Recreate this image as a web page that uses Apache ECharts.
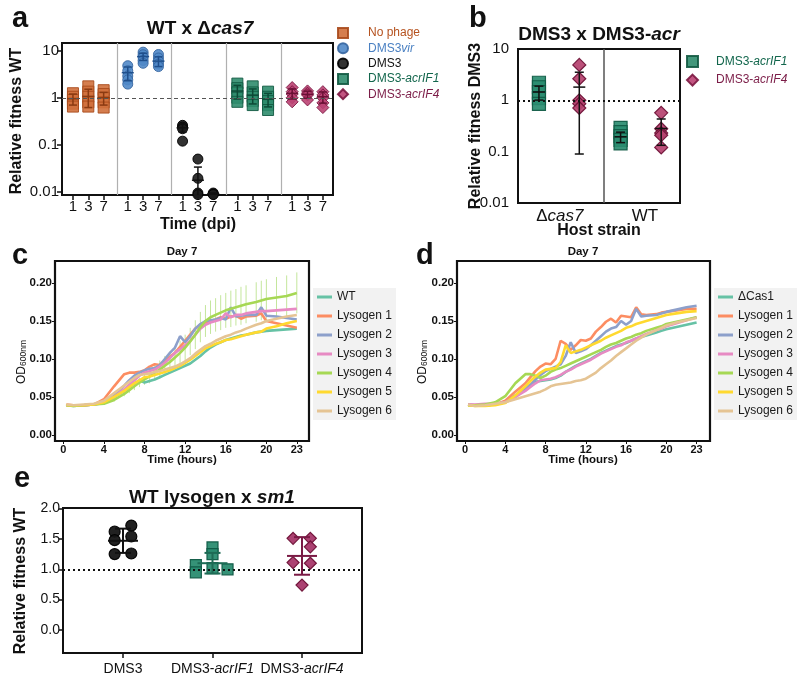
<!DOCTYPE html>
<html>
<head>
<meta charset="utf-8">
<script src="https://cdn.jsdelivr.net/npm/echarts@6/dist/echarts.min.js"></script>
<style>
  html, body { margin: 0; padding: 0; background: #fff; }
  #chart { width: 800px; height: 685px; }
</style>
</head>
<body>
<div id="chart"></div>
<script>
const FONT = "'Liberation Sans', Arial, Helvetica, sans-serif";
const lg = v => Math.log10(v);

// ---------- panel a : WT x Δcas7, per day post infection ----------
const days = ['1', '3', '7'];
const dayOffsets = [0.2, 0.48, 0.76];
const aNames = ['No phage', 'DMS3vir', 'DMS3', 'DMS3-acrIF1', 'DMS3-acrIF4'];
const aNoPhage = [[1.25, 1.05, 0.9, 0.75, 0.65], [1.75, 1.35, 1.05, 0.8, 0.65], [1.45, 1.2, 1.0, 0.8, 0.62]];
const aVir = [[4.8, 3.75, 2.9, 2.4, 1.95], [9.3, 8.2, 7.2, 6.2, 5.4], [8.3, 7.0, 6.0, 5.2, 4.6]];
const aDms3 = [[0.26, 0.24, 0.22, 0.12], [0.05, 0.0195, 0.0095, 0.0088], [0.0095, 0.009, 0.0088]];
const aIF1 = [[2.0, 1.6, 1.3, 1.0, 0.82], [1.75, 1.3, 1.05, 0.85, 0.7], [1.35, 1.05, 0.85, 0.7, 0.55]];
const aIF4 = [[1.65, 1.35, 1.2, 1.0, 0.82], [1.4, 1.25, 1.15, 0.9], [1.35, 1.15, 1.0, 0.78, 0.62]];
const aMean = [[0.95, 1.07, 1.0], [3.4, 7.5, 6.0], [0.23, 0.0178, 0.0092], [1.39, 1.14, 0.94], [1.24, 1.18, 1.05]];
const aSD = [[0.25, 0.45, 0.3], [1.1, 1.3, 1.4], [0.045, 0.016, 0.0003], [0.45, 0.4, 0.3], [0.3, 0.2, 0.28]];
const aTicks = ['0.01', '0.1', '1', '10'];

// ---------- panel b : DMS3 x DMS3-acr ----------
const bHosts = ['Δcas7', 'WT'];
const bCas7IF1 = [2.2, 1.8, 1.45, 1.1, 0.85];
const bCas7IF4 = [4.9, 2.63, 1.0, 0.86, 0.71];
const bWTIF1 = [0.29, 0.24, 0.2, 0.17, 0.145];
const bWTIF4 = [0.57, 0.28, 0.23, 0.21, 0.121];
const bMean = [1.45, 1.81, 0.195, 0.283];
const bSD = [0.44, 1.72, 0.045, 0.15];

// ---------- panels c, d : growth curves, day 7 ----------
const hours = [0.3, 1, 2, 3, 4, 5, 6, 6.5, 7, 7.5, 8, 8.5, 9, 9.5, 10, 10.5, 11, 11.5, 12, 12.5, 13, 13.5, 14, 14.5, 15, 15.5, 16, 16.5, 17, 17.5, 18, 19, 19.5, 20, 21, 22, 23];
const hourTicks = [0, 4, 8, 12, 16, 20, 23];
const odTicks = [0, 0.05, 0.1, 0.15, 0.2];
const cNames = ['WT', 'Lysogen 1', 'Lysogen 2', 'Lysogen 3', 'Lysogen 4', 'Lysogen 5', 'Lysogen 6'];
const dNames = ['ΔCas1', 'Lysogen 1', 'Lysogen 2', 'Lysogen 3', 'Lysogen 4', 'Lysogen 5', 'Lysogen 6'];
const cWT = [0.039,0.038,0.039,0.040,0.042,0.050,0.058,0.063,0.068,0.072,0.069,0.071,0.073,0.076,0.079,0.082,0.085,0.088,0.091,0.094,0.099,0.104,0.110,0.115,0.119,0.122,0.125,0.127,0.129,0.131,0.132,0.135,0.136,0.137,0.138,0.139,0.140];
const cL1 = [0.040,0.039,0.039,0.040,0.047,0.064,0.080,0.082,0.082,0.083,0.085,0.090,0.093,0.092,0.098,0.103,0.108,0.116,0.124,0.132,0.140,0.145,0.148,0.150,0.152,0.155,0.153,0.156,0.157,0.153,0.156,0.157,0.160,0.150,0.147,0.144,0.141];
const cL2 = [0.039,0.039,0.039,0.040,0.043,0.052,0.065,0.072,0.078,0.082,0.085,0.087,0.088,0.092,0.100,0.108,0.115,0.130,0.122,0.130,0.140,0.146,0.150,0.151,0.152,0.154,0.152,0.168,0.156,0.157,0.158,0.158,0.168,0.157,0.156,0.154,0.152];
const cL3 = [0.039,0.039,0.039,0.040,0.042,0.050,0.060,0.066,0.072,0.078,0.082,0.084,0.086,0.090,0.095,0.101,0.108,0.113,0.118,0.124,0.132,0.140,0.145,0.148,0.150,0.152,0.160,0.155,0.158,0.158,0.160,0.162,0.163,0.163,0.164,0.165,0.166];
const cL4 = [0.039,0.038,0.039,0.040,0.041,0.046,0.054,0.059,0.064,0.069,0.073,0.077,0.082,0.086,0.091,0.096,0.102,0.108,0.115,0.123,0.132,0.142,0.150,0.155,0.158,0.161,0.164,0.166,0.168,0.170,0.172,0.175,0.177,0.179,0.181,0.183,0.187];
const cL4err = [0.001,0.001,0.001,0.001,0.001,0.002,0.003,0.004,0.005,0.006,0.007,0.009,0.010,0.012,0.013,0.014,0.015,0.016,0.017,0.018,0.019,0.020,0.021,0.022,0.022,0.023,0.023,0.024,0.024,0.025,0.025,0.026,0.026,0.026,0.027,0.027,0.027];
const cL5 = [0.039,0.039,0.039,0.040,0.043,0.050,0.058,0.063,0.068,0.072,0.076,0.077,0.079,0.081,0.083,0.085,0.088,0.091,0.095,0.099,0.104,0.109,0.114,0.117,0.120,0.122,0.125,0.126,0.128,0.130,0.132,0.135,0.136,0.140,0.143,0.147,0.150];
const cL6 = [0.040,0.039,0.040,0.041,0.045,0.055,0.065,0.070,0.075,0.079,0.080,0.081,0.083,0.084,0.086,0.088,0.090,0.093,0.097,0.101,0.107,0.112,0.117,0.120,0.124,0.127,0.130,0.132,0.135,0.137,0.140,0.145,0.147,0.150,0.153,0.156,0.158];
const dWT = [0.039,0.039,0.039,0.040,0.043,0.052,0.062,0.066,0.070,0.071,0.072,0.073,0.075,0.078,0.083,0.087,0.091,0.094,0.097,0.100,0.104,0.108,0.111,0.114,0.117,0.119,0.121,0.124,0.127,0.129,0.131,0.135,0.137,0.139,0.142,0.145,0.148];
const dL1 = [0.040,0.039,0.039,0.040,0.045,0.057,0.068,0.076,0.084,0.090,0.094,0.093,0.100,0.124,0.120,0.112,0.118,0.125,0.124,0.127,0.136,0.142,0.149,0.153,0.148,0.157,0.156,0.155,0.168,0.159,0.158,0.159,0.161,0.162,0.164,0.166,0.166];
const dL2 = [0.040,0.039,0.039,0.040,0.043,0.050,0.060,0.066,0.073,0.079,0.084,0.087,0.090,0.093,0.104,0.122,0.108,0.110,0.113,0.118,0.124,0.130,0.136,0.140,0.142,0.150,0.145,0.150,0.166,0.156,0.157,0.158,0.160,0.162,0.165,0.168,0.170];
const dL3 = [0.040,0.040,0.041,0.041,0.043,0.050,0.058,0.063,0.068,0.072,0.073,0.074,0.076,0.079,0.083,0.086,0.090,0.093,0.096,0.099,0.103,0.107,0.110,0.113,0.116,0.118,0.122,0.124,0.127,0.130,0.133,0.138,0.140,0.143,0.147,0.151,0.155];
const dL4 = [0.039,0.039,0.040,0.043,0.051,0.068,0.080,0.080,0.078,0.075,0.078,0.083,0.086,0.088,0.091,0.094,0.097,0.100,0.103,0.106,0.109,0.112,0.116,0.119,0.121,0.124,0.127,0.129,0.132,0.134,0.137,0.141,0.143,0.146,0.149,0.152,0.155];
const dL5 = [0.039,0.038,0.038,0.039,0.042,0.052,0.064,0.071,0.077,0.082,0.086,0.087,0.088,0.096,0.118,0.108,0.110,0.112,0.115,0.118,0.121,0.124,0.128,0.131,0.134,0.137,0.141,0.143,0.146,0.148,0.150,0.154,0.156,0.158,0.160,0.162,0.163];
const dL6 = [0.040,0.038,0.039,0.041,0.043,0.047,0.051,0.053,0.055,0.057,0.060,0.064,0.066,0.067,0.068,0.069,0.071,0.072,0.074,0.078,0.082,0.088,0.093,0.098,0.104,0.109,0.114,0.119,0.124,0.128,0.132,0.138,0.141,0.144,0.148,0.151,0.154];
const set2 = ['#66C2A5', '#FC8D62', '#8DA0CB', '#E78AC3', '#A6D854', '#FFD92F', '#E5C494'];

// ---------- panel e : WT lysogen x sm1 ----------
const eNames = ['DMS3', 'DMS3-acrIF1', 'DMS3-acrIF4'];
const eDMS3 = [1.72, 1.62, 1.54, 1.48, 1.26, 1.25];
const eIF1 = [1.07, 0.95, 1.36, 1.25, 1.02, 1.0];
const eIF4 = [1.51, 1.51, 1.37, 1.11, 1.10, 0.74];
const eJitter = [[0.093, -0.093, 0.093, -0.093, 0.093, -0.093], [-0.186, -0.186, 0, 0, 0, 0.168], [-0.1, 0.093, 0.093, -0.1, 0.093, 0]];
const eMean = [1.47, 1.10, 1.22];
const eSD = [0.20, 0.17, 0.31];

const A_MIN = -2.064, A_MAX = 1.163;

function errorBars(meanHalf, capHalf, color, width) {
  return function (params, api) {
    const x = api.value(0);
    const m = api.coord([x, api.value(1)]);
    const hi = api.coord([x, api.value(2)])[1];
    const lo = api.coord([x, api.value(3)])[1];
    const st = { stroke: color, lineWidth: width };
    const kids = [
      { type: 'line', shape: { x1: m[0], y1: hi, x2: m[0], y2: lo }, style: st },
      { type: 'line', shape: { x1: m[0] - capHalf, y1: hi, x2: m[0] + capHalf, y2: hi }, style: st },
      { type: 'line', shape: { x1: m[0] - meanHalf, y1: m[1], x2: m[0] + meanHalf, y2: m[1] }, style: st }
    ];
    if (!api.value(4)) {
      kids.push({ type: 'line', shape: { x1: m[0] - capHalf, y1: lo, x2: m[0] + capHalf, y2: lo }, style: st });
    }
    return { type: 'group', children: kids };
  };
}

function vline(x) { return { xAxis: x }; }
function markLines(items, color, width, type) {
  return {
    silent: true, symbol: ['none', 'none'], label: { show: false }, animation: false,
    lineStyle: { color: color, width: width, type: type },
    data: items
  };
}

const series = [];

// panel a
const aStyles = [
  { symbol: 'rect', size: 11, color: '#d0703c', border: '#a84a1c', mean: '#8a3a12' },
  { symbol: 'circle', size: 10, color: '#5088c8', border: '#3565a0', mean: '#1f4f8c' },
  { symbol: 'circle', size: 10, color: '#1c1c1c', border: '#000000', mean: '#111111' },
  { symbol: 'rect', size: 11, color: '#2f8c6d', border: '#135a43', mean: '#0d4a36' },
  { symbol: 'diamond', size: 12, color: '#bb4273', border: '#7b1640', mean: '#6a1035' }
];
[aNoPhage, aVir, aDms3, aIF1, aIF4].forEach((set, g) => {
  const s = aStyles[g];
  const pts = [];
  set.forEach((vals, d) => vals.forEach(v => pts.push([g + dayOffsets[d], lg(v)])));
  const sc = {
    type: 'scatter', name: aNames[g], xAxisIndex: 0, yAxisIndex: 0,
    symbol: s.symbol, symbolSize: s.size, z: 2,
    itemStyle: { color: s.color, borderColor: s.border, borderWidth: 1, opacity: 0.9 },
    data: pts
  };
  if (g === 0) {
    sc.markLine = markLines([vline(1), vline(2), vline(3), vline(4)], '#b0b0b0', 1.2, 'solid');
  }
  if (g === 1) {
    sc.markLine = markLines([{ yAxis: 0 }], '#555', 1, [4, 3]);
  }
  series.push(sc);
  const bars = aMean[g].map((m, d) => {
    const sd = aSD[g][d];
    const lo = m - sd;
    const lgLo = lo > 0 ? lg(lo) : A_MIN;
    return [g + dayOffsets[d], lg(m), lg(m + sd), Math.max(lgLo, A_MIN), lgLo <= A_MIN ? 1 : 0];
  });
  series.push({
    type: 'custom', xAxisIndex: 0, yAxisIndex: 0, z: 3, clip: true,
    renderItem: errorBars(6, 4, s.mean, 1.5), encode: { x: 0, y: [1, 2, 3] }, data: bars
  });
});

// panel b
const bPos = [0.245, 0.717, 1.2, 1.675];
const bSets = [bCas7IF1, bCas7IF4, bWTIF1, bWTIF4];
const bStyles = [
  { name: 'DMS3-acrIF1', symbol: 'rect', size: 13, color: '#2a8c70', border: '#0f5a44' },
  { name: 'DMS3-acrIF4', symbol: 'diamond', size: 13, color: '#b5426f', border: '#6d0f35' }
];
bStyles.forEach((s, k) => {
  const pts = [];
  [k, k + 2].forEach(i => bSets[i].forEach(v => pts.push([bPos[i], lg(v)])));
  const sc = {
    type: 'scatter', name: s.name, xAxisIndex: 1, yAxisIndex: 1,
    symbol: s.symbol, symbolSize: s.size, z: 2,
    itemStyle: { color: s.color, borderColor: s.border, borderWidth: 1.2, opacity: 0.92 },
    data: pts
  };
  if (k === 0) {
    sc.markLine = markLines([vline(1.0)], '#555', 1.5, 'solid');
  } else {
    sc.markLine = markLines([{ yAxis: 0 }], '#111', 2, [2, 3]);
  }
  series.push(sc);
});
series.push({
  type: 'custom', xAxisIndex: 1, yAxisIndex: 1, z: 3, clip: true,
  renderItem: errorBars(6, 4.5, '#111', 1.5), encode: { x: 0, y: [1, 2, 3] },
  data: bMean.map((m, i) => [bPos[i], lg(m), lg(m + bSD[i]), lg(m - bSD[i]), 0])
});

// panels c and d
const cSets = [cWT, cL1, cL2, cL3, cL4, cL5, cL6];
const dSets = [dWT, dL1, dL2, dL3, dL4, dL5, dL6];
series.push({
  type: 'custom', xAxisIndex: 2, yAxisIndex: 2, z: 1, clip: true,
  renderItem: function (params, api) {
    const a = api.coord([api.value(0), api.value(1)]);
    const b = api.coord([api.value(0), api.value(2)]);
    return { type: 'line', shape: { x1: a[0], y1: a[1], x2: b[0], y2: b[1] }, style: { stroke: '#c4e69c', lineWidth: 1 } };
  },
  encode: { x: 0, y: [1, 2] },
  data: hours.map((h, i) => [h, cL4[i] - cL4err[i], cL4[i] + cL4err[i]])
});
[[cSets, cNames, 2], [dSets, dNames, 3]].forEach(([sets, names, ax]) => {
  sets.forEach((vals, i) => {
    series.push({
      type: 'line', name: names[i], xAxisIndex: ax, yAxisIndex: ax,
      showSymbol: false, symbol: 'none', z: 2,
      lineStyle: { color: set2[i], width: 2.6 }, itemStyle: { color: set2[i] },
      data: hours.map((h, j) => [h, vals[j]])
    });
  });
});

// panel e
const eStyles = [
  { symbol: 'circle', size: 11, color: '#151515', border: '#000', mean: '#111' },
  { symbol: 'rect', size: 11, color: '#2a8c70', border: '#0f5a44', mean: '#1d6b55' },
  { symbol: 'diamond', size: 12, color: '#a8386a', border: '#6d0f35', mean: '#7a1a45' }
];
[eDMS3, eIF1, eIF4].forEach((vals, c) => {
  const s = eStyles[c];
  const sc = {
    type: 'scatter', name: eNames[c], xAxisIndex: 4, yAxisIndex: 4,
    symbol: s.symbol, symbolSize: s.size, z: 2,
    itemStyle: { color: s.color, borderColor: s.border, borderWidth: 1.2, opacity: 0.95 },
    data: vals.map((v, i) => [c + eJitter[c][i], v])
  };
  if (c === 0) sc.markLine = markLines([{ yAxis: 1 }], '#111', 1.8, [2, 3]);
  series.push(sc);
  series.push({
    type: 'custom', xAxisIndex: 4, yAxisIndex: 4, z: 3, clip: true,
    renderItem: errorBars(15, 8, s.mean, 2), encode: { x: 0, y: [1, 2, 3] },
    data: [[c, eMean[c], eMean[c] + eSD[c], eMean[c] - eSD[c], 0]]
  });
});

// ---------- axes ----------
const black = '#111';
function baseAxis(extra) {
  return Object.assign({
    type: 'value', axisLine: { show: false, onZero: false }, splitLine: { show: false }
  }, extra);
}
const aDayPos = [];
for (let g = 0; g < 5; g++) dayOffsets.forEach(o => aDayPos.push(+(g + o).toFixed(2)));

const xAxes = [
  baseAxis({ gridIndex: 0, min: 0, max: 4.945,
    axisTick: { show: true, customValues: aDayPos, length: 5, lineStyle: { color: black, width: 1.5 } },
    axisLabel: { customValues: aDayPos, margin: 4, fontSize: 15, color: black, fontFamily: FONT,
      formatter: v => days[dayOffsets.findIndex(o => Math.abs((v % 1) - o) < 0.02)] } }),
  baseAxis({ gridIndex: 1, min: 0, max: 1.895,
    axisTick: { show: false },
    axisLabel: { customValues: [0.49, 1.485], margin: 5, fontSize: 17, color: black, fontFamily: FONT,
      formatter: v => v < 1 ? '{n|Δ}{i|cas7}' : '{n|WT}',
      rich: { n: { fontSize: 17, fontFamily: FONT, color: black }, i: { fontSize: 17, fontFamily: FONT, fontStyle: 'italic', color: black } } } }),
  baseAxis({ gridIndex: 2, min: -0.82, max: 24.2,
    axisTick: { show: true, customValues: hourTicks, length: 3, lineStyle: { color: black, width: 1 } },
    axisLabel: { customValues: hourTicks, margin: 3, fontSize: 11, fontWeight: 'bold', color: black, fontFamily: FONT } }),
  baseAxis({ gridIndex: 3, min: -0.79, max: 24.33,
    axisTick: { show: true, customValues: hourTicks, length: 3, lineStyle: { color: black, width: 1 } },
    axisLabel: { customValues: hourTicks, margin: 3, fontSize: 11, fontWeight: 'bold', color: black, fontFamily: FONT } }),
  baseAxis({ gridIndex: 4, min: -0.67, max: 2.67,
    axisTick: { show: true, customValues: [0, 1, 2], length: 5, lineStyle: { color: black, width: 1.5 } },
    axisLabel: { customValues: [0, 1, 2], margin: 9, fontSize: 14, color: black, fontFamily: FONT,
      formatter: v => ['{n|DMS3}', '{n|DMS3-}{i|acrIF1}', '{n|DMS3-}{i|acrIF4}'][Math.round(v)],
      rich: { n: { fontSize: 14, fontFamily: FONT, color: black }, i: { fontSize: 14, fontFamily: FONT, fontStyle: 'italic', color: black } } } })
];
const yAxes = [
  baseAxis({ gridIndex: 0, min: A_MIN, max: A_MAX,
    axisTick: { show: true, customValues: [-2, -1, 0, 1], length: 5, lineStyle: { color: black, width: 1.5 } },
    axisLabel: { customValues: [-2, -1, 0, 1], margin: 3, fontSize: 15, color: black, fontFamily: FONT,
      formatter: v => aTicks[Math.round(v) + 2] } }),
  baseAxis({ gridIndex: 1, min: -2, max: 1,
    axisTick: { show: false },
    axisLabel: { customValues: [-2, -1, 0, 1], margin: 9, fontSize: 15, color: black, fontFamily: FONT,
      formatter: v => aTicks[Math.round(v) + 2] } }),
  baseAxis({ gridIndex: 2, min: -0.008, max: 0.229,
    axisTick: { show: true, customValues: odTicks, length: 3, lineStyle: { color: black, width: 1 } },
    axisLabel: { customValues: odTicks, margin: 3, fontSize: 11.5, fontWeight: 'bold', color: black, fontFamily: FONT,
      formatter: v => v.toFixed(2) } }),
  baseAxis({ gridIndex: 3, min: -0.008, max: 0.229,
    axisTick: { show: true, customValues: odTicks, length: 3, lineStyle: { color: black, width: 1 } },
    axisLabel: { customValues: odTicks, margin: 3, fontSize: 11.5, fontWeight: 'bold', color: black, fontFamily: FONT,
      formatter: v => v.toFixed(2) } }),
  baseAxis({ gridIndex: 4, min: -0.38, max: 2.01,
    axisTick: { show: true, customValues: [0, 0.5, 1, 1.5, 2], length: 4, lineStyle: { color: black, width: 1.5 } },
    axisLabel: { customValues: [0, 0.5, 1, 1.5, 2], margin: 3, fontSize: 14, color: black, fontFamily: FONT,
      formatter: v => v.toFixed(1) } })
];

function box(left, top, width, height, bw) {
  return { left, top, width, height, show: true, borderColor: black, borderWidth: bw,
    containLabel: false, outerBoundsMode: 'none' };
}

// ---------- legends ----------
const legendRich = {
  o: { color: '#b5521f', fontSize: 12, fontFamily: FONT },
  b: { color: '#4a80c2', fontSize: 12, fontFamily: FONT },
  bi: { color: '#4a80c2', fontSize: 12, fontFamily: FONT, fontStyle: 'italic' },
  k: { color: '#111', fontSize: 12, fontFamily: FONT },
  g: { color: '#12664c', fontSize: 12, fontFamily: FONT },
  gi: { color: '#12664c', fontSize: 12, fontFamily: FONT, fontStyle: 'italic' },
  m: { color: '#7b1c47', fontSize: 12, fontFamily: FONT },
  mi: { color: '#7b1c47', fontSize: 12, fontFamily: FONT, fontStyle: 'italic' }
};
const legendText = {
  'No phage': '{o|No phage}',
  'DMS3vir': '{b|DMS3}{bi|vir}',
  'DMS3': '{k|DMS3}',
  'DMS3-acrIF1': '{g|DMS3-}{gi|acrIF1}',
  'DMS3-acrIF4': '{m|DMS3-}{mi|acrIF4}'
};
function lineLegend(left, names) {
  return {
    left, top: 288, orient: 'vertical', icon: 'rect', itemWidth: 15, itemHeight: 3, itemGap: 7,
    padding: [3, 4], backgroundColor: '#f2f2f2', data: names, selectedMode: false,
    textStyle: { fontSize: 12, color: '#1a1a1a', fontFamily: FONT }
  };
}

// ---------- text ----------
function txt(x, y, text, size, weight, extra) {
  return Object.assign({
    type: 'text', x, y, silent: true,
    style: { text, fontSize: size, fontWeight: weight, fontFamily: FONT, fill: black,
      align: 'center', verticalAlign: 'middle', textAlign: 'center', textVerticalAlign: 'middle' }
  }, extra || {});
}
function letter(x, y, t) {
  const el = txt(x, y, t, 29, 'bold');
  el.style.align = 'left'; el.style.textAlign = 'left';
  return el;
}
function rot(el) { el.rotation = Math.PI / 2; return el; }
const titleRich = size => ({
  n: { fontSize: size, fontWeight: 'bold', fontFamily: FONT, fill: black, color: black },
  i: { fontSize: size, fontWeight: 'bold', fontStyle: 'italic', fontFamily: FONT, fill: black, color: black }
});
function richTxt(x, y, text, size) {
  const el = txt(x, y, text, size, 'bold');
  el.style.rich = titleRich(size);
  return el;
}
function odLabel(x, y) {
  const el = txt(x, y, '{a|OD}{s|600nm}', 12, 'normal');
  el.style.rich = {
    a: { fontSize: 12, fontFamily: FONT, fill: black, color: black },
    s: { fontSize: 8.5, fontFamily: FONT, fill: black, color: black, verticalAlign: 'bottom' }
  };
  return rot(el);
}

const graphics = [
  letter(12, 19, 'a'), letter(469, 19, 'b'), letter(12, 256, 'c'), letter(416, 256, 'd'), letter(14, 479, 'e'),
  richTxt(200, 29, '{n|WT x Δ}{i|cas7}', 19),
  richTxt(599, 35, '{n|DMS3 x DMS3-}{i|acr}', 19),
  txt(182, 252, 'Day 7', 11.5, 'bold'),
  txt(583, 252, 'Day 7', 11.5, 'bold'),
  richTxt(212, 498, '{n|WT lysogen x }{i|sm1}', 19),
  rot(txt(17, 121, 'Relative fitness WT', 16, 'bold')),
  txt(198, 225, 'Time (dpi)', 16, 'bold'),
  rot(txt(476, 126, 'Relative fitness DMS3', 16, 'bold')),
  txt(599, 231, 'Host strain', 16, 'bold'),
  odLabel(22, 362),
  txt(182, 460, 'Time (hours)', 11.5, 'bold'),
  odLabel(423, 362),
  txt(583, 460, 'Time (hours)', 11.5, 'bold'),
  rot(txt(21, 581, 'Relative fitness WT', 16, 'bold'))
];

const option = {
  animation: false,
  backgroundColor: '#fff',
  textStyle: { fontFamily: FONT },
  grid: [
    box(62, 43, 271, 152, 2),
    box(518, 49, 162, 154, 2),
    box(55, 261, 254, 180, 2.2),
    box(457, 261, 253, 180, 2.2),
    box(63, 508, 299, 145, 2)
  ],
  xAxis: xAxes,
  yAxis: yAxes,
  legend: [
    { left: 337, top: 27, orient: 'vertical', itemWidth: 10, itemHeight: 10, itemGap: 3.3, padding: 0,
      selectedMode: false, data: aNames, formatter: n => legendText[n],
      textStyle: { fontSize: 12, fontFamily: FONT, rich: legendRich, padding: [0, 0, 0, 15] } },
    { left: 686, top: 55, orient: 'vertical', itemWidth: 11, itemHeight: 11, itemGap: 5.6, padding: 0,
      selectedMode: false, data: ['DMS3-acrIF1', 'DMS3-acrIF4'], formatter: n => legendText[n],
      textStyle: { fontSize: 12, fontFamily: FONT, rich: legendRich, padding: [0, 0, 0, 13] } },
    lineLegend(313, cNames),
    lineLegend(714, dNames)
  ],
  graphic: graphics,
  series: series
};

const chart = echarts.init(document.getElementById('chart'), null, { renderer: 'canvas' });
chart.setOption(option);
</script>
</body>
</html>
